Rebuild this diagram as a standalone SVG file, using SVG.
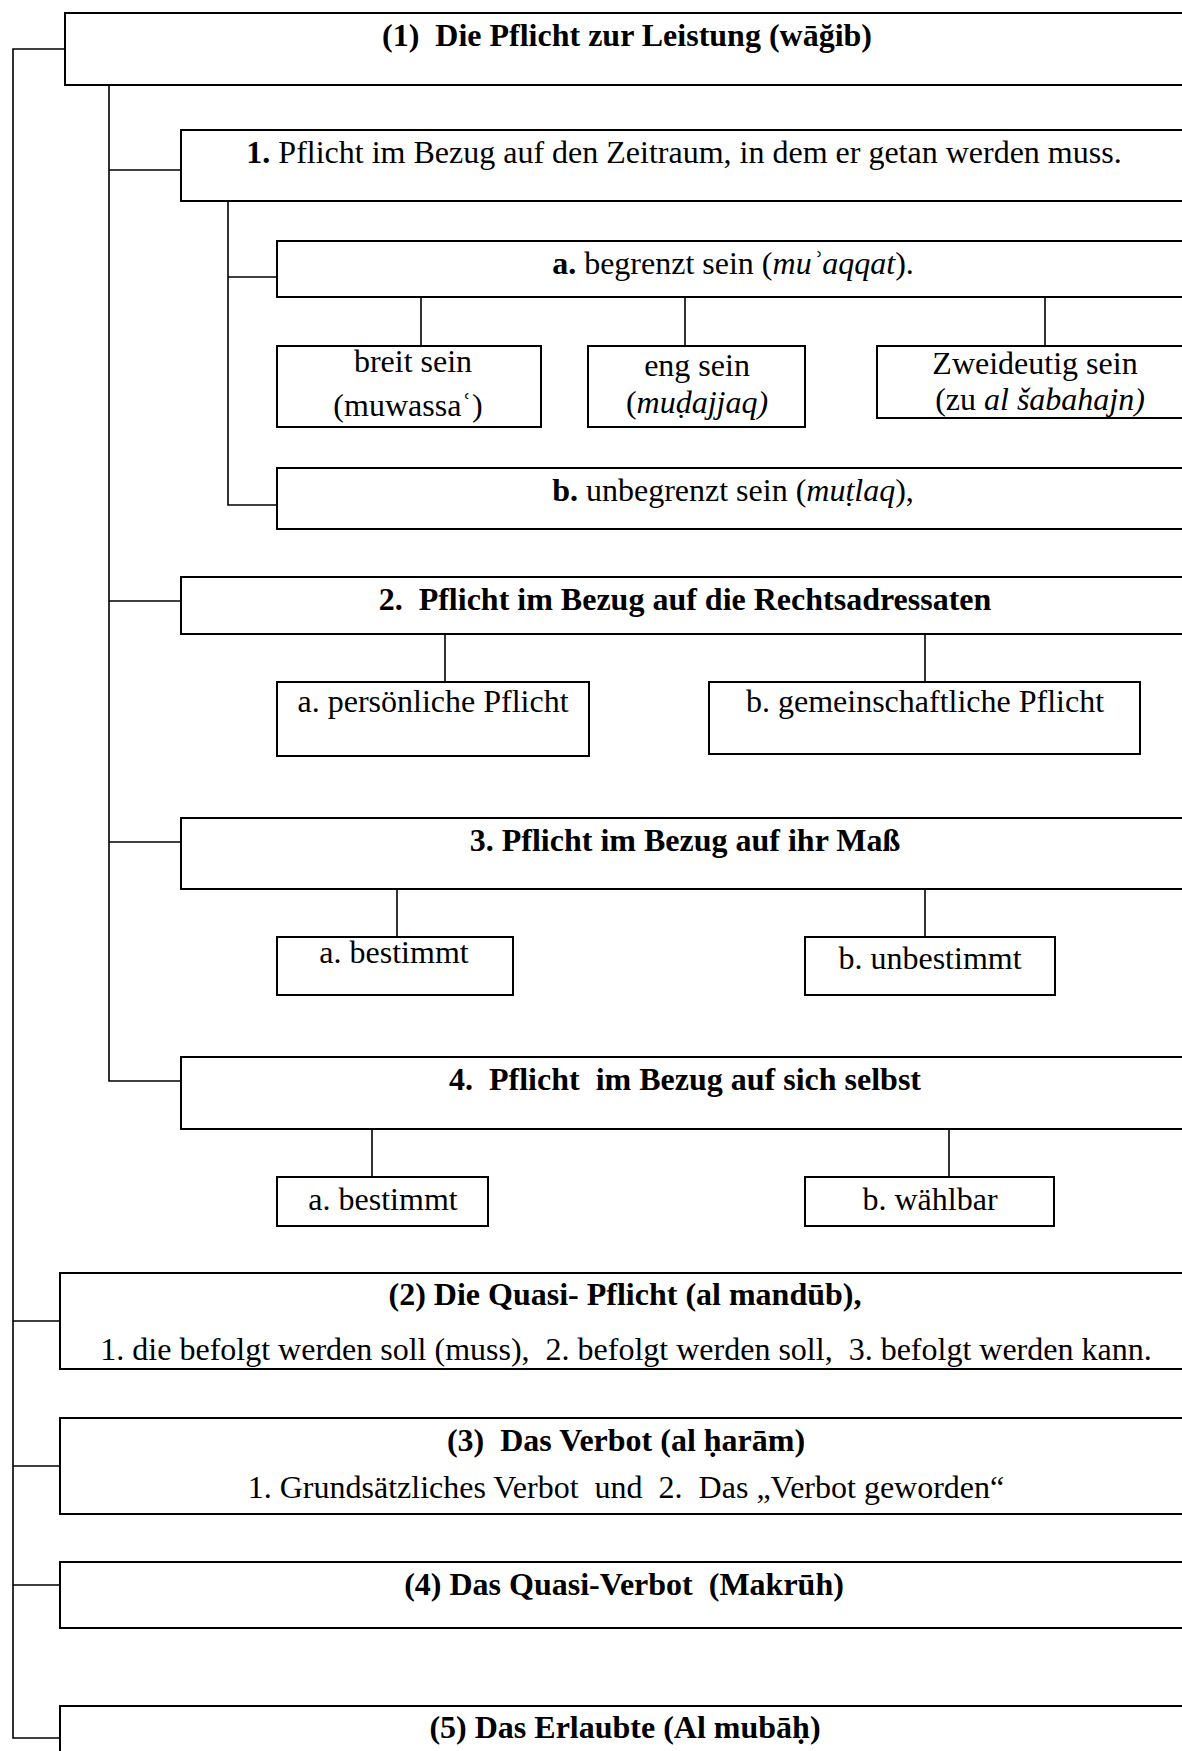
<svg xmlns="http://www.w3.org/2000/svg" width="1182" height="1751" viewBox="0 0 1182 1751" xml:space="preserve">
<style>
  .box { fill: #fff; stroke: #000; stroke-width: 2; }
  .conn { fill: none; stroke: #000; stroke-width: 1.6; }
  text { font-family: "Liberation Serif", "Times New Roman", "DejaVu Serif", serif; font-size: 32px; fill: #000; text-anchor: middle; white-space: pre; }
  .b { font-weight: bold; }
  .i { font-style: italic; }
</style>
<rect x="0" y="0" width="1182" height="1751" fill="#fff"/>

<g id="connectors">
  <!-- main trunk -->
  <polyline class="conn" points="65,49 13,49 13,1738 60,1738"/>
  <line class="conn" x1="13" y1="1321" x2="60" y2="1321"/>
  <line class="conn" x1="13" y1="1466" x2="60" y2="1466"/>
  <line class="conn" x1="13" y1="1585" x2="60" y2="1585"/>
  <!-- second trunk -->
  <polyline class="conn" points="109,85 109,1081 181,1081"/>
  <line class="conn" x1="109" y1="170" x2="181" y2="170"/>
  <line class="conn" x1="109" y1="601" x2="181" y2="601"/>
  <line class="conn" x1="109" y1="842" x2="181" y2="842"/>
  <!-- third trunk -->
  <polyline class="conn" points="228,201 228,505 277,505"/>
  <line class="conn" x1="228" y1="277" x2="277" y2="277"/>
  <!-- a. children -->
  <line class="conn" x1="421" y1="297" x2="421" y2="346"/>
  <line class="conn" x1="685" y1="297" x2="685" y2="346"/>
  <line class="conn" x1="1045" y1="297" x2="1045" y2="346"/>
  <!-- 2. children -->
  <line class="conn" x1="445" y1="634" x2="445" y2="682"/>
  <line class="conn" x1="925" y1="634" x2="925" y2="682"/>
  <!-- 3. children -->
  <line class="conn" x1="397" y1="889" x2="397" y2="937"/>
  <line class="conn" x1="925" y1="889" x2="925" y2="937"/>
  <!-- 4. children -->
  <line class="conn" x1="372" y1="1129" x2="372" y2="1177"/>
  <line class="conn" x1="949" y1="1129" x2="949" y2="1177"/>
</g>

<g id="n1">
  <rect class="box" x="65" y="13" width="1130" height="72"/>
  <text class="b" x="627" y="46">(1)  Die Pflicht zur Leistung (wāğib)</text>
</g>

<g id="n1-1">
  <rect class="box" x="181" y="130" width="1014" height="71"/>
  <text x="684" y="163"><tspan class="b">1.</tspan> Pflicht im Bezug auf den Zeitraum, in dem er getan werden muss.</text>
</g>

<g id="n1-1a">
  <rect class="box" x="277" y="241" width="918" height="56"/>
  <text x="733" y="274"><tspan class="b">a.</tspan> begrenzt sein (<tspan class="i">muʾaqqat</tspan>).</text>
</g>

<g id="n-breit">
  <rect class="box" x="277" y="346" width="264" height="81"/>
  <text x="413" y="372">breit sein</text>
  <text x="408" y="416">(muwassaʿ)</text>
</g>

<g id="n-eng">
  <rect class="box" x="588" y="346" width="217" height="81"/>
  <text x="697" y="376">eng sein</text>
  <text x="697" y="413">(<tspan class="i">muḍajjaq)</tspan></text>
</g>

<g id="n-zweideutig">
  <rect class="box" x="877" y="346" width="318" height="72"/>
  <text x="1035" y="374">Zweideutig sein</text>
  <text x="1040" y="410">(zu <tspan class="i">al šabahajn)</tspan></text>
</g>

<g id="n1-1b">
  <rect class="box" x="277" y="468" width="918" height="61"/>
  <text x="733" y="501"><tspan class="b">b.</tspan> unbegrenzt sein (<tspan class="i">muṭlaq</tspan>),</text>
</g>

<g id="n1-2">
  <rect class="box" x="181" y="577" width="1014" height="57"/>
  <text class="b" x="685" y="610">2.  Pflicht im Bezug auf die Rechtsadressaten</text>
</g>

<g id="n1-2a">
  <rect class="box" x="277" y="682" width="312" height="74"/>
  <text x="433" y="712">a. persönliche Pflicht</text>
</g>

<g id="n1-2b">
  <rect class="box" x="709" y="682" width="431" height="72"/>
  <text x="925" y="712">b. gemeinschaftliche Pflicht</text>
</g>

<g id="n1-3">
  <rect class="box" x="181" y="818" width="1014" height="71"/>
  <text class="b" x="685" y="851">3. Pflicht im Bezug auf ihr Maß</text>
</g>

<g id="n1-3a">
  <rect class="box" x="277" y="937" width="236" height="58"/>
  <text x="394" y="963">a. bestimmt</text>
</g>

<g id="n1-3b">
  <rect class="box" x="805" y="937" width="250" height="58"/>
  <text x="930" y="969">b. unbestimmt</text>
</g>

<g id="n1-4">
  <rect class="box" x="181" y="1057" width="1014" height="72"/>
  <text class="b" x="685" y="1090">4.  Pflicht  im Bezug auf sich selbst</text>
</g>

<g id="n1-4a">
  <rect class="box" x="277" y="1177" width="211" height="49"/>
  <text x="383" y="1210">a. bestimmt</text>
</g>

<g id="n1-4b">
  <rect class="box" x="805" y="1177" width="249" height="49"/>
  <text x="930" y="1210">b. wählbar</text>
</g>

<g id="n2">
  <rect class="box" x="60" y="1273" width="1135" height="96"/>
  <text class="b" x="625" y="1305">(2) Die Quasi- Pflicht (al mandūb),</text>
  <text x="626" y="1360">1. die befolgt werden soll (muss),  2. befolgt werden soll,  3. befolgt werden kann.</text>
</g>

<g id="n3">
  <rect class="box" x="60" y="1418" width="1135" height="96"/>
  <text class="b" x="626" y="1451">(3)  Das Verbot (al ḥarām)</text>
  <text x="626" y="1498">1. Grundsätzliches Verbot  und  2.  Das „Verbot geworden“</text>
</g>

<g id="n4">
  <rect class="box" x="60" y="1562" width="1135" height="66"/>
  <text class="b" x="624" y="1595">(4) Das Quasi-Verbot  (Makrūh)</text>
</g>

<g id="n5">
  <rect class="box" x="60" y="1706" width="1135" height="60"/>
  <text class="b" x="625" y="1738">(5) Das Erlaubte (Al mubāḥ)</text>
</g>
</svg>
